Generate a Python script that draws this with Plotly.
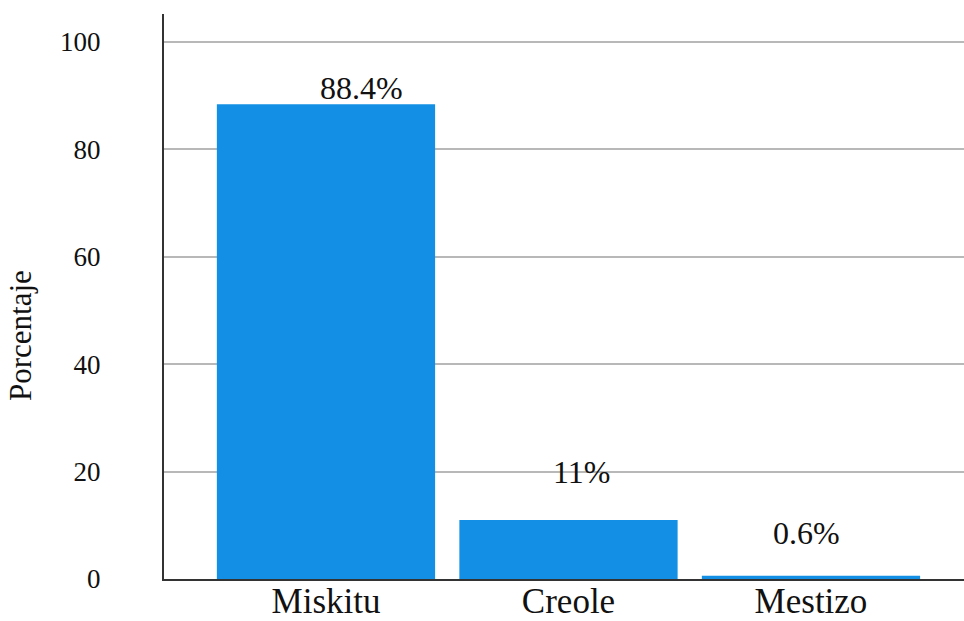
import plotly.graph_objects as go

# Distribución étnica de la muestra (%)
categorias = ["Miskitu", "Creole", "Mestizo"]
porcentajes = [88.4, 11.0, 0.6]
etiquetas = ["88.4%", "11%", "0.6%"]
marcas_y = [0, 20, 40, 60, 80, 100]

# desplazamiento (px) de cada etiqueta respecto al extremo de su barra
desp_x = [36, 13, -4]
desp_y = [16, 48, 43]

FUENTE = "Liberation Serif"

fig = go.Figure(
    go.Bar(
        x=categorias,
        y=porcentajes,
        marker=dict(color="#1390E5", line=dict(width=0)),
        hoverinfo="x+y",
    )
)

for cat, val, txt, dx, dy in zip(categorias, porcentajes, etiquetas, desp_x, desp_y):
    fig.add_annotation(
        x=cat, y=val, text=txt, showarrow=False,
        xshift=dx, yshift=dy, yanchor="middle",
        font=dict(family=FUENTE, size=32, color="#111111"),
    )

# título del eje vertical
fig.add_annotation(
    xref="paper", yref="paper", x=-0.18, y=0.43,
    text="Porcentaje", textangle=-90, showarrow=False,
    xanchor="center", yanchor="middle",
    font=dict(family=FUENTE, size=31, color="#111111"),
)

fig.update_layout(
    width=964, height=621,
    margin=dict(l=164, r=0, t=14, b=42),
    paper_bgcolor="white", plot_bgcolor="white",
    bargap=0.1,
    showlegend=False,
    font=dict(family=FUENTE, color="#111111"),
)

fig.update_xaxes(
    range=[-0.668, 2.631],
    showline=True, linecolor="#333333", linewidth=2,
    showgrid=False, ticks="", automargin=False,
    tickfont=dict(family=FUENTE, size=35, color="#111111"),
    ticklabelstandoff=-10,
)

fig.update_yaxes(
    range=[0, 105.2],
    tickvals=marcas_y,
    showline=True, linecolor="#333333", linewidth=2,
    showgrid=True, gridcolor="#b8b8b8", gridwidth=2,
    zeroline=False, ticks="", automargin=False,
    tickfont=dict(family=FUENTE, size=27, color="#111111"),
    ticklabelstandoff=56,
)

fig.write_html("out.html")
